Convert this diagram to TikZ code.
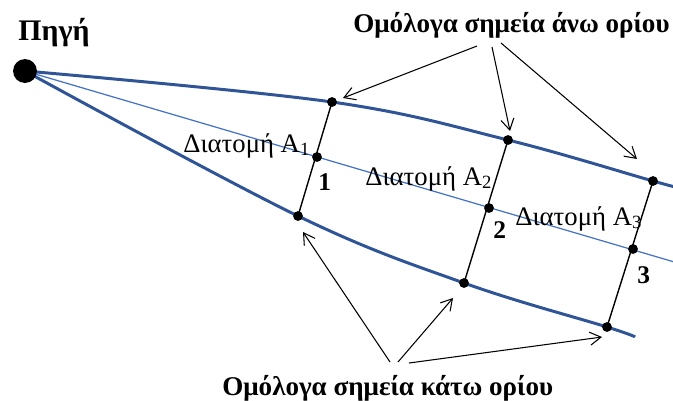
\documentclass[tikz,border=0pt]{standalone}
\usepackage{fontspec}
\setmainfont{Liberation Serif}
\usetikzlibrary{arrows.meta}
\definecolor{bndblue}{HTML}{2F5597}
\definecolor{axisblue}{HTML}{4472C4}

\begin{document}
\begin{tikzpicture}[x=0.02cm,y=-0.02cm,
  font=\fontsize{15.2}{18}\selectfont,
  bound/.style={draw=bndblue,line width=1.7pt},
  axis/.style={draw=axisblue,line width=0.7pt},
  sect/.style={draw=black,line width=0.8pt},
  pointer/.style={-{Straight Barb[length=2.2mm,width=2.6mm]},line width=0.6pt},
  title/.style={font=\fontsize{15.4}{18}\selectfont\bfseries,anchor=base west,inner sep=0pt},
  label/.style={anchor=base west,inner sep=0pt},
  num/.style={font=\fontsize{14.5}{17}\selectfont\bfseries,anchor=base west,inner sep=0pt}]
\useasboundingbox (0,0) rectangle (673,400);
\coordinate (src) at (25,71);
\coordinate (u1) at (332,102);
\coordinate (u2) at (508,140);
\coordinate (u3) at (653,181);
\coordinate (uend) at (676,187);
\coordinate (m1) at (317,157);
\coordinate (m2) at (489,208);
\coordinate (m3) at (633,249);
\coordinate (mend) at (676,262.5);
\coordinate (l1) at (298,216);
\coordinate (l2) at (464,283);
\coordinate (l3) at (607,327);
\coordinate (lend) at (635,337);
\draw[axis] (src) -- (mend);
\draw[bound] plot[smooth,tension=0.6] coordinates {(src) (u1) (u2) (u3) (uend)};
\draw[bound] plot[smooth,tension=0.6] coordinates {(src) (l1) (l2) (l3) (lend)};
\draw[sect] (u1) -- (l1);
\draw[sect] (u2) -- (l2);
\draw[sect] (u3) -- (l3);
\fill (src) circle (6.8pt);
\foreach \p in {u1,u2,u3,m1,m2,m3,l1,l2,l3}
  \fill (\p) circle (2.8pt);
\node[title,font=\fontsize{17}{20}\selectfont\bfseries] (source) at (18,40) {Πηγή};
\node[title] (upper) at (353,32) {Ομόλογα σημεία άνω ορίου};
\node[title] (lower) at (222,395) {Ομόλογα σημεία κάτω ορίου};
\node[label] (sec1) at (183,152) {Διατομή A\textsubscript{1}};
\node[label] (sec2) at (365,185) {Διατομή A\textsubscript{2}};
\node[label] (sec3) at (515,225) {Διατομή A\textsubscript{3}};
\node[num] (n1) at (318,190) {1};
\node[num] (n2) at (493,238) {2};
\node[num] (n3) at (637,283) {3};
\coordinate (tu1) at (477,46);
\coordinate (tu2) at (492,47);
\coordinate (tu3) at (501,43);
\coordinate (hu1) at (343,98);
\coordinate (hu2) at (510,131);
\coordinate (hu3) at (637,159);
\coordinate (tl1) at (390,362);
\coordinate (tl2) at (398,362);
\coordinate (tl3) at (409,363);
\coordinate (hl1) at (303,232);
\coordinate (hl2) at (453,298);
\coordinate (hl3) at (602,337);
\draw[pointer] (tu1) -- (hu1);
\draw[pointer] (tu2) -- (hu2);
\draw[pointer] (tu3) -- (hu3);
\draw[pointer] (tl1) -- (hl1);
\draw[pointer] (tl2) -- (hl2);
\draw[pointer] (tl3) -- (hl3);
\end{tikzpicture}
\end{document}
